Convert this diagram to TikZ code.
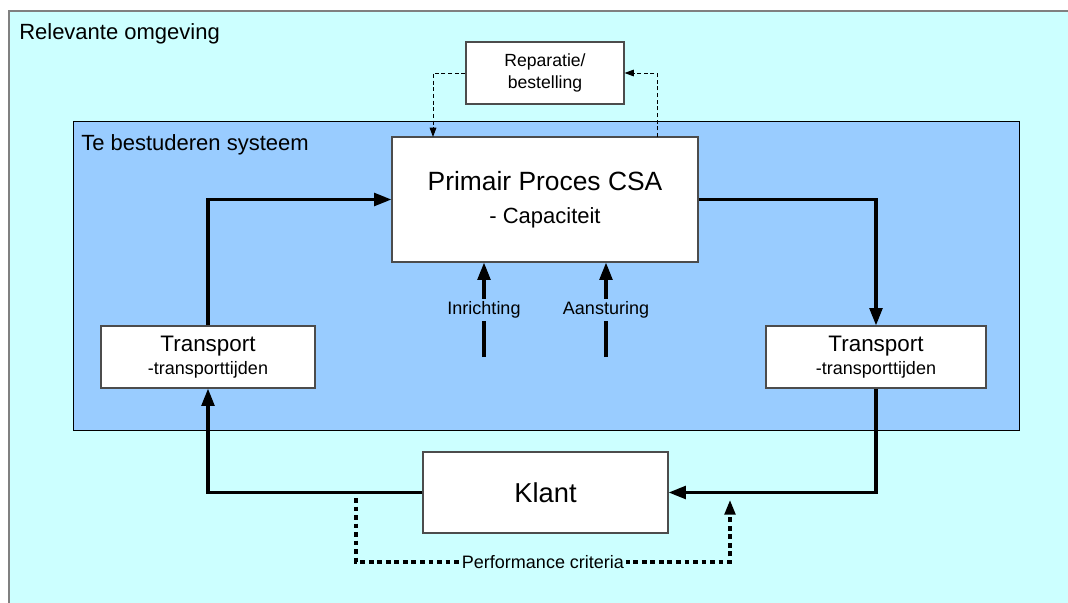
\documentclass[tikz,border=0pt]{standalone}
\usepackage{fontspec}
\setmainfont{Liberation Sans}
\usetikzlibrary{arrows.meta}
\definecolor{envcyan}{HTML}{CCFFFF}
\definecolor{sysblue}{HTML}{99CCFF}
\begin{document}
\begin{tikzpicture}[x=0.75pt,y=-0.75pt,
  box/.style={draw=black!70, line width=0.8pt, fill=white, inner sep=0pt, align=center},
  flow/.style={line width=2.4pt, -{Triangle[length=13pt,width=9.5pt]}},
  fb/.style={line width=0.7pt, dash pattern=on 3pt off 2pt, -{Triangle[length=7pt,width=5pt]}},
  perf/.style={line width=2.4pt, dash pattern=on 3.6pt off 2.8pt, -{Triangle[length=11pt,width=8pt]}},
  side/.style={fill=sysblue, inner sep=2pt, font=\fontsize{13.5pt}{16pt}\selectfont},
  plabel/.style={fill=envcyan, inner sep=1.5pt, font=\fontsize{13.5pt}{16pt}\selectfont},
  title/.style={inner sep=0pt, anchor=base west, font=\fontsize{16.5pt}{20pt}\selectfont}]

\useasboundingbox (0,0) rectangle (1068,603);
\fill[white] (0,0) rectangle (1068,603);

% environment and system areas
\begin{scope}
  \clip (0,0) rectangle (1068,603);
  \draw[draw=black!50, line width=1.1pt, fill=envcyan] (9,11) rectangle (1090,630);
\end{scope}
\draw[black, line width=0.75pt, fill=sysblue] (73,121) rectangle (1019,430);

\node[title] (envt) at (19,40) {Relevante omgeving};
\node[title] (syst) at (81,150) {Te bestuderen systeem};

% boxes
\node[box, minimum width=158*0.75pt, minimum height=62*0.75pt,
      font=\fontsize{13.2pt}{16.5pt}\selectfont] (rep) at (545,73) {Reparatie/\\bestelling};
\node[box, minimum width=306*0.75pt, minimum height=125*0.75pt,
      font=\fontsize{16.5pt}{24.75pt}\selectfont] (prim) at (545,199.5)
      {{\fontsize{19.8pt}{24.75pt}\selectfont Primair Proces CSA}\\- Capaciteit};
\node[box, minimum width=214*0.75pt, minimum height=62*0.75pt,
      font=\fontsize{13.5pt}{17pt}\selectfont] (tl) at (208,357)
      {{\fontsize{16.8pt}{17pt}\selectfont Transport}\\-transporttijden};
\node[box, minimum width=220*0.75pt, minimum height=62*0.75pt,
      font=\fontsize{13.5pt}{17pt}\selectfont] (tr) at (876,357)
      {{\fontsize{16.8pt}{17pt}\selectfont Transport}\\-transporttijden};
\node[box, minimum width=245*0.75pt, minimum height=81*0.75pt,
      font=\fontsize{20.5pt}{24pt}\selectfont] (klant) at (545.5,492.5) {Klant};

% main flow
\draw[flow] (tl.north) |- (prim.west);
\draw[flow] (prim.east) -| (tr.north);
\draw[flow] (tr.south) |- (klant.east);
\draw[flow] (klant.west) -| (tl.south);

% design and control inputs
\coordinate (inr) at (484,357);
\coordinate (ans) at (606,357);
\draw[flow] (inr) -- node[side] (inrl) {Inrichting} (inr |- prim.south);
\draw[flow] (ans) -- node[side] (ansl) {Aansturing} (ans |- prim.south);

% repair / ordering loop
\coordinate (dl) at (433,137);
\coordinate (dr) at (657,137);
\draw[fb] (rep.west) -| (dl);
\draw[fb] (dr) |- (rep.east);

% performance criteria
\coordinate (pa) at (356,498);
\coordinate (pc) at (730,562);
\coordinate (pb) at (730,500);
\draw[perf] (pa) |- node[pos=0.75, plabel] (perfl) {Performance criteria} (pc) -- (pb);
\end{tikzpicture}
\end{document}
